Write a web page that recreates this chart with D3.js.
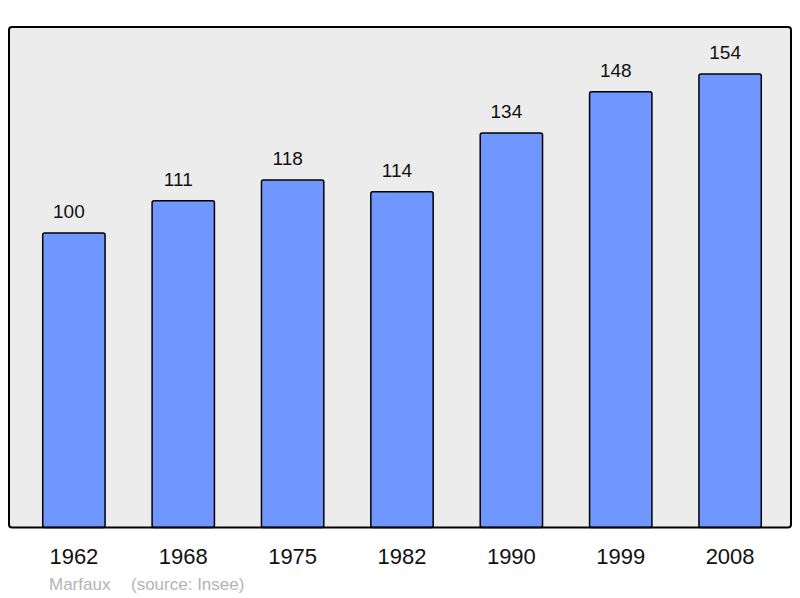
<!DOCTYPE html>
<html><head><meta charset="utf-8">
<script src="https://cdn.jsdelivr.net/npm/d3@7"></script>
<style>body{margin:0;background:#fff}svg{display:block;font-family:"Liberation Sans",Arial,sans-serif}</style>
</head><body>
<svg id="c" width="800" height="598"></svg>
<script>
const years = ["1962","1968","1975","1982","1990","1999","2008"];
const population = [100,111,118,114,134,148,154];
const commune = "Marfaux";
const source = "(source: Insee)";

const svg = d3.select("#c");
const panel = {x0: 9, y0: 27, x1: 791, y1: 527.5};

const x = d3.scaleBand().domain(years).range([panel.x0 + 2, panel.x1 + 2]).paddingInner(0.43).paddingOuter(0.29);
const y = d3.scaleLinear().domain([0, 170]).range([panel.y1, panel.y0]);

svg.append("rect").attr("x", panel.x0).attr("y", panel.y0)
  .attr("width", panel.x1 - panel.x0).attr("height", panel.y1 - panel.y0)
  .attr("rx", 3).attr("fill", "#ececec");

const data = years.map((yr, i) => ({yr, v: population[i]}));

svg.selectAll("rect.bar").data(data).join("rect").attr("class", "bar")
  .attr("x", d => x(d.yr)).attr("y", d => y(d.v))
  .attr("width", x.bandwidth()).attr("height", d => panel.y1 - y(d.v))
  .attr("rx", 2).attr("fill", "#7096ff").attr("stroke", "#000").attr("stroke-width", 1.5);

svg.append("rect").attr("x", panel.x0).attr("y", panel.y0)
  .attr("width", panel.x1 - panel.x0).attr("height", panel.y1 - panel.y0)
  .attr("rx", 3).attr("fill", "none").attr("stroke", "#000").attr("stroke-width", 2);

svg.selectAll("text.val").data(data).join("text").attr("class", "val")
  .attr("x", d => x(d.yr) + x.bandwidth() / 2 - 5).attr("y", d => y(d.v) - 15)
  .attr("text-anchor", "middle").attr("font-size", 19).attr("fill", "#111")
  .text(d => d.v);

svg.selectAll("text.yr").data(years).join("text").attr("class", "yr")
  .attr("x", d => x(d) + x.bandwidth() / 2).attr("y", 564)
  .attr("text-anchor", "middle").attr("font-size", 22).attr("fill", "#111")
  .text(d => d);

svg.append("text").attr("x", 49).attr("y", 590).attr("font-size", 17).attr("fill", "#b4b4b4").text(commune);
svg.append("text").attr("x", 131).attr("y", 590).attr("font-size", 17).attr("fill", "#b4b4b4").text(source);
</script>
</body></html>
